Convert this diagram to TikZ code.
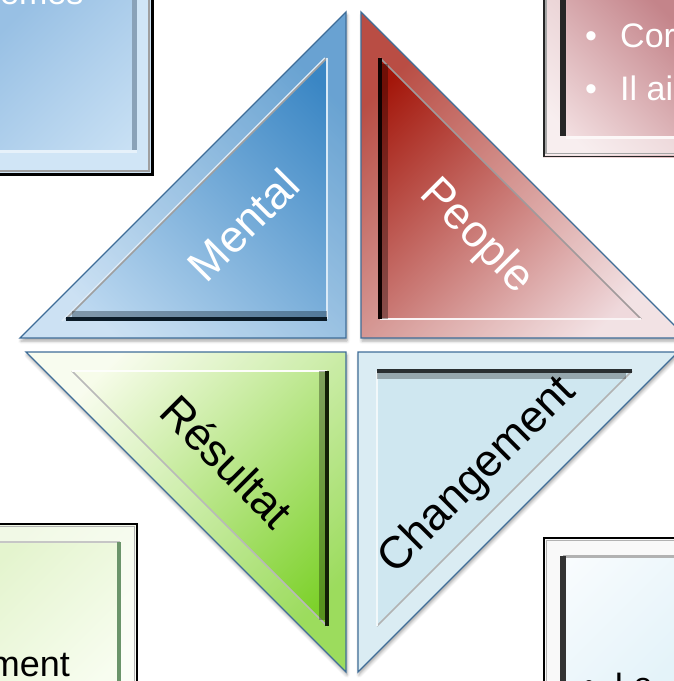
\documentclass[tikz,border=0pt]{standalone}
\usepackage{fontspec}
\setmainfont{Liberation Sans}
\usetikzlibrary{shadows.blur}

% triangle colours
\definecolor{rimBlue}{HTML}{3F6D98}
\definecolor{mentalLight}{HTML}{BCD8F0}
\definecolor{mentalDark}{HTML}{3A86C4}
\definecolor{peopleDark}{HTML}{A3160A}
\definecolor{peopleLight}{HTML}{EFD9DC}
\definecolor{resLight}{HTML}{F7FCEA}
\definecolor{resDark}{HTML}{7DD12B}
\definecolor{chgFill}{HTML}{CFE7F0}
% corner panel colours
\definecolor{boxBlueA}{HTML}{98C0E4}
\definecolor{boxBlueB}{HTML}{C8E0F4}
\definecolor{boxBlueEdge}{HTML}{8AA2B8}
\definecolor{boxPinkA}{HTML}{C4848A}
\definecolor{boxPinkB}{HTML}{F2DEE0}
\definecolor{boxGreenA}{HTML}{E4F4CE}
\definecolor{boxGreenB}{HTML}{F8FDF0}
\definecolor{boxIceA}{HTML}{F9FCFE}
\definecolor{boxIceB}{HTML}{E4F3F9}

\tikzset{
  rim/.style={draw=rimBlue, line width=1.3pt, line join=miter},
  dropshadow/.style={blur shadow={shadow xshift=1pt, shadow yshift=-3pt,
      shadow blur radius=3pt, shadow opacity=35}},
  band/.style={fill=white, fill opacity=0.24, even odd rule},
  softedge/.style={line width=8pt, line cap=butt, opacity=0.35},
  darkedge/.style={line width=3.5pt, line cap=butt},
  lightedge/.style={line width=2.2pt, line cap=butt},
  hypedge/.style={line width=1.6pt, line cap=butt},
  tritext/.style={font=\fontsize{45}{54}\selectfont, inner sep=0pt},
  boxtext/.style={font=\fontsize{34}{40}\selectfont, inner sep=0pt, anchor=base west},
}

\begin{document}
\begin{tikzpicture}[x=1pt,y=-1pt]
\useasboundingbox (0,0) rectangle (674,681);
\clip (0,0) rectangle (674,681);

% ---------- corner panels ----------
% top left (blue)
\shade[top color=boxBlueA, bottom color=boxBlueB, shading angle=45] (-10,-10) rectangle (153,175);
\fill[boxBlueB!85!white, even odd rule] (-10,-10) rectangle (151,173) (-10,-10) rectangle (137,152);
\draw[line width=5pt, boxBlueEdge] (134.5,-10) -- (134.5,152);
\draw[line width=3pt, white!55!boxBlueB] (-10,151.5) -- (137,151.5);
\draw[line width=2pt, gray!75] (149,-10) -- (149,171) -- (-10,171);
\draw[line width=3pt, black] (152,-10) -- (152,174) -- (-10,174);
\node[boxtext, text=white] (tlText) at (0,4) {emes};

% top right (pink)
\shade[top color=boxPinkA, bottom color=boxPinkB, shading angle=-45] (543,-10) rectangle (690,157);
\fill[white, fill opacity=0.5, even odd rule] (545,-10) rectangle (690,155) (566,-10) rectangle (690,136);
\draw[line width=6pt, black!85] (563,-10) -- (563,136);
\draw[line width=3pt, white!75!boxPinkB] (566,137.5) -- (690,137.5);
\draw[line width=1.5pt, gray!70] (546,-10) -- (546,153.5) -- (690,153.5);
\draw[line width=1.5pt, black!85] (543.75,-10) -- (543.75,156.25) -- (690,156.25);
\node[boxtext, text=white] (trBulletA) at (585,47) {•};
\node[boxtext, text=white] (trTextA) at (620,47) {Cor};
\node[boxtext, text=white] (trBulletB) at (585,100) {•};
\node[boxtext, text=white] (trTextB) at (620,100) {Il ai};

% bottom left (green)
\shade[top color=boxGreenA, bottom color=boxGreenB, shading angle=45] (-10,523) rectangle (138,690);
\fill[white, fill opacity=0.5, even odd rule] (-10,525) rectangle (136,690) (-10,543) rectangle (119,690);
\draw[line width=2.5pt, gray!45] (-10,542) -- (120,542);
\draw[line width=4pt, gray!60!green!40!gray] (119,542) -- (119,690);
\draw[line width=1.5pt, gray!60] (-10,526.5) -- (134.5,526.5) -- (134.5,690);
\draw[line width=2.5pt, black] (-10,524) -- (137,524) -- (137,690);
\node[font=\fontsize{36}{42}\selectfont, inner sep=0pt, anchor=base east] (blText) at (70,676) {ment};

% bottom right (ice)
\shade[top color=boxIceA, bottom color=boxIceB, shading angle=45] (543,537) rectangle (690,690);
\fill[white!95!gray, even odd rule] (545,539) rectangle (690,690) (566,557) rectangle (690,690);
\draw[line width=3pt, gray!60] (563,556) -- (690,556);
\draw[line width=6pt, black!80] (563,556) -- (563,690);
\draw[line width=1.5pt, gray!60] (546.5,690) -- (546.5,540.5) -- (690,540.5);
\draw[line width=2.5pt, black] (544,690) -- (544,538) -- (690,538);
\node[boxtext] (brBullet) at (583,696) {•};
\node[boxtext] (brText) at (614.5,696) {Le};

% ---------- Mental (top left triangle) ----------
\coordinate (mA) at (20,338);  \coordinate (mB) at (346,338);  \coordinate (mC) at (346,12);
\coordinate (ma) at (66,319);  \coordinate (mb) at (327,319);  \coordinate (mc) at (327,58);
\path[dropshadow, fill=white] (mA) -- (mB) -- (mC) -- cycle;
\shade[top color=mentalDark, bottom color=mentalLight, shading angle=-45] (mA) -- (mB) -- (mC) -- cycle;
\path[band] (mA) -- (mB) -- (mC) -- cycle (ma) -- (mb) -- (mc) -- cycle;
\draw[hypedge, white!50!mentalLight] (62,321) -- (325,58);
\draw[hypedge, gray!75] (ma) -- (mc);
\draw[lightedge, white!45!mentalLight] (mb) -- (mc);
\draw[softedge, black!80!mentalDark] (72,315) -- (327,315);
\draw[darkedge, black!80!mentalDark] (ma) -- (mb);
\draw[rim] (mA) -- (mB) -- (mC) -- cycle;
\node[tritext, text=white, rotate=45] (mental) at (243,225) {Mental};

% ---------- People (top right triangle) ----------
\coordinate (pA) at (361,338);  \coordinate (pB) at (361,12);  \coordinate (pC) at (687,338);
\coordinate (pa) at (380,319);  \coordinate (pb) at (380,58);  \coordinate (pc) at (641,319);
\path[dropshadow, fill=white] (pA) -- (pB) -- (pC) -- cycle;
\shade[top color=peopleDark, bottom color=peopleLight, shading angle=45] (pA) -- (pB) -- (pC) -- cycle;
\path[band] (pA) -- (pB) -- (pC) -- cycle (pa) -- (pb) -- (pc) -- cycle;
\draw[hypedge, gray!70!peopleLight] (pb) -- (pc);
\draw[lightedge, white!70!peopleLight] (pa) -- (pc);
\draw[softedge, black!90!peopleDark] (384,64) -- (384,319);
\draw[darkedge, black!90!peopleDark] (pa) -- (pb);
\draw[rim] (pA) -- (pB) -- (pC) -- cycle;
\node[tritext, text=white, rotate=-45] (people) at (476,237) {People};

% ---------- Résultat (bottom left triangle) ----------
\coordinate (rA) at (346,352);  \coordinate (rB) at (26,352);  \coordinate (rC) at (346,672);
\coordinate (ra) at (327,371);  \coordinate (rb) at (72,371);  \coordinate (rc) at (327,626);
\path[dropshadow, fill=white] (rA) -- (rB) -- (rC) -- cycle;
\shade[top color=resLight, bottom color=resDark, shading angle=45] (rA) -- (rB) -- (rC) -- cycle;
\path[band] (rA) -- (rB) -- (rC) -- cycle (ra) -- (rb) -- (rc) -- cycle;
\draw[hypedge, gray!55] (rb) -- (rc);
\draw[lightedge, white!80!resLight] (ra) -- (rb);
\draw[softedge, black!75!resDark!60!black] (323,371) -- (323,620);
\draw[darkedge, black!75!resDark!60!black] (ra) -- (rc);
\draw[rim] (rA) -- (rB) -- (rC) -- cycle;
\node[tritext, rotate=-45] (resultat) at (227,461) {Résultat};

% ---------- Changement (bottom right triangle) ----------
\coordinate (cA) at (358,352);  \coordinate (cB) at (678,352);  \coordinate (cC) at (358,672);
\coordinate (ca) at (377,371);  \coordinate (cb) at (632,371);  \coordinate (cc) at (377,626);
\path[dropshadow, fill=white] (cA) -- (cB) -- (cC) -- cycle;
\fill[chgFill] (cA) -- (cB) -- (cC) -- cycle;
\path[band] (cA) -- (cB) -- (cC) -- cycle (ca) -- (cb) -- (cc) -- cycle;
\draw[hypedge, gray!60] (cb) -- (cc);
\draw[lightedge, white!70!chgFill] (ca) -- (cc);
\draw[softedge, black!80!chgFill] (377,375) -- (626,375);
\draw[darkedge, black!80!chgFill] (ca) -- (cb);
\draw[rim] (cA) -- (cB) -- (cC) -- cycle;
\node[tritext, rotate=45] (changement) at (478,476) {Changement};
\end{tikzpicture}
\end{document}
